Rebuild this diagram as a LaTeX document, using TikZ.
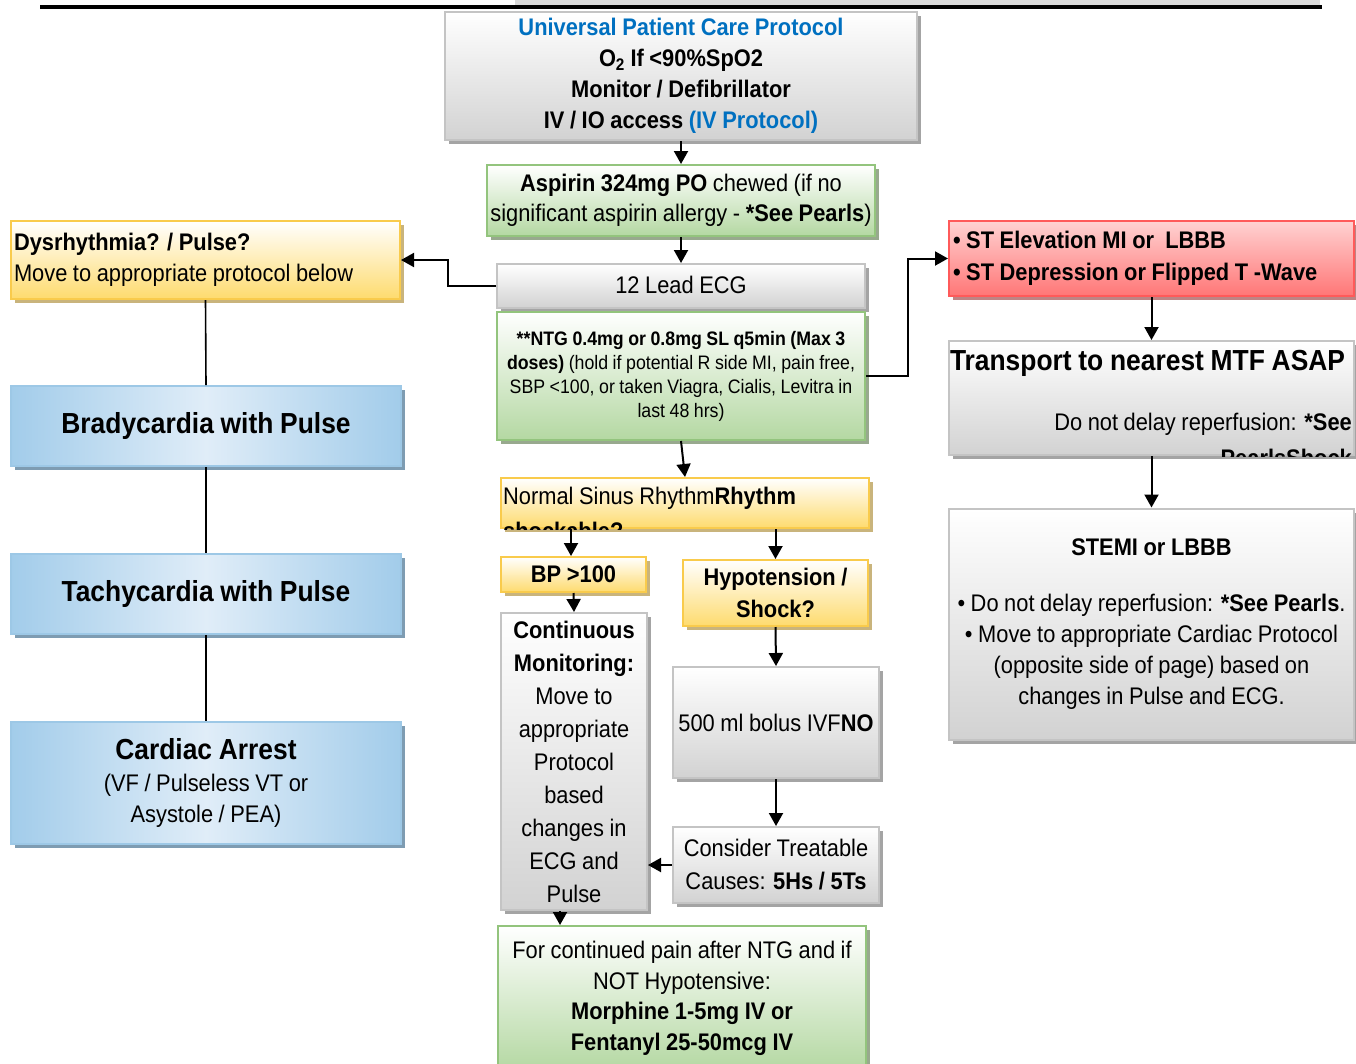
\documentclass[tikz,border=0pt]{standalone}
\usepackage{fontspec}
\setmainfont{Liberation Sans}[FakeStretch=0.91, WordSpace=0.92]
\usetikzlibrary{arrows.meta,shadows}

\definecolor{ublue}{HTML}{0070C0}
\definecolor{gborder}{HTML}{C4C4C4}
\definecolor{gbottom}{HTML}{D2D2D2}
\definecolor{gshadow}{HTML}{A4A4A4}
\definecolor{grborder}{HTML}{93C47D}
\definecolor{grbottom}{HTML}{B4D8A2}
\definecolor{grshadow}{HTML}{98A98E}
\definecolor{yborder}{HTML}{F9CB4C}
\definecolor{ybottom}{HTML}{FEDB6E}
\definecolor{yshadow}{HTML}{C9B47C}
\definecolor{bborder}{HTML}{9DC8E6}
\definecolor{bedge}{HTML}{A2CCEA}
\definecolor{bmid}{HTML}{E0EDF8}
\definecolor{bshadow}{HTML}{7E9CB2}
\definecolor{rborder}{HTML}{FF5A5A}
\definecolor{rtop}{HTML}{FFD2D2}
\definecolor{rbottom}{HTML}{FF7676}
\definecolor{rshadow}{HTML}{BE8484}
\definecolor{stripgrey}{HTML}{D9D9D9}

\tikzset{
  box/.style={line width=2pt, inner sep=0pt, align=center,
    font=\fontsize{24}{30.5}\selectfont},
  greybox/.style={box, draw=gborder, top color=white, bottom color=gbottom,
    drop shadow={fill=gshadow, opacity=1, shadow xshift=4pt, shadow yshift=-4pt}},
  greenbox/.style={box, draw=grborder, top color=white, bottom color=grbottom,
    drop shadow={fill=grshadow, opacity=1, shadow xshift=4pt, shadow yshift=-4pt}},
  yellowbox/.style={box, draw=yborder, top color=white, bottom color=ybottom,
    drop shadow={fill=yshadow, opacity=1, shadow xshift=4pt, shadow yshift=-4pt}},
  bluebox/.style={box, draw=bborder, left color=bedge, right color=bedge, middle color=bmid,
    drop shadow={fill=bshadow, opacity=1, shadow xshift=4pt, shadow yshift=-4pt}},
  redbox/.style={box, draw=rborder, top color=rtop, bottom color=rbottom,
    drop shadow={fill=rshadow, opacity=1, shadow xshift=4pt, shadow yshift=-4pt}},
  plain/.style={inner sep=0pt, font=\fontsize{24}{30.5}\selectfont},
  arr/.style={line width=2pt, -{Triangle[length=13pt,width=14pt]}},
  link/.style={line width=1.6pt},
  big/.style={font=\fontsize{29}{33}\selectfont\bfseries}
}

\begin{document}
\begin{tikzpicture}[x=1pt,y=-1pt]
\clip (0,0) rectangle (1356,1063);
\fill[white] (0,0) rectangle (1356,1063);

% page header strip and rule
\fill[stripgrey] (515,0) rectangle (1320,5);
\draw[line width=4.5pt] (40,7) -- (1322,7);

% ---- centre column ----
\node[greybox, minimum width=472pt, minimum height=128pt,
      font=\fontsize{24}{31}\selectfont\bfseries] (upc) at (681,76)
  {{\color{ublue}Universal Patient Care Protocol}\\
   O\textsubscript{2} If <90\%SpO2\\
   Monitor / Defibrillator\\
   IV / IO access {\color{ublue}(IV Protocol)}};

\node[greenbox, minimum width=388pt, minimum height=71pt] (asa) at (681,200.5)
  {\textbf{Aspirin 324mg PO} chewed (if no\\
   significant aspirin allergy - \textbf{*See Pearls})};

\node[greybox, minimum width=368pt, minimum height=44pt] (ecg) at (681,286)
  {\raisebox{3pt}{12 Lead ECG}};

\node[greenbox, minimum width=368pt, minimum height=128pt,
      font=\fontsize{19.5}{24}\selectfont] (ntg) at (681,376)
  {\textbf{**NTG 0.4mg or 0.8mg SL q5min (Max 3}\\
   \textbf{doses)} (hold if potential R side MI, pain free,\\
   SBP <100, or taken Viagra, Cialis, Levitra in\\
   last 48 hrs)};

\node[yellowbox, minimum width=368pt, minimum height=50pt] (nsr) at (685,503) {};
\begin{scope}
  \clip (nsr.south west) rectangle (nsr.north east);
  \node[plain, anchor=west, align=flush left, font=\fontsize{24}{35}\selectfont] (nsrtxt) at (503,513.5)
    {Normal Sinus Rhythm\textbf{Rhythm}\\\textbf{shockable?}};
\end{scope}

\node[yellowbox, minimum width=145pt, minimum height=35pt] (bp) at (573.5,574.5)
  {\textbf{BP >100}};

\node[greybox, minimum width=146pt, minimum height=297pt,
      font=\fontsize{24}{33}\selectfont] (cont) at (574,761.5)
  {\textbf{Continuous}\\\textbf{Monitoring:}\\Move to\\appropriate\\Protocol\\based\\changes in\\ECG and\\Pulse};

\node[yellowbox, minimum width=185pt, minimum height=66pt,
      font=\fontsize{24}{32}\selectfont] (hypo) at (775.5,593)
  {\textbf{Hypotension /}\\\textbf{Shock?}};

\node[greybox, minimum width=206pt, minimum height=111pt] (bolus) at (776,722.5)
  {500 ml bolus IVF\textbf{NO}};

\node[greybox, minimum width=206pt, minimum height=76pt,
      font=\fontsize{24}{33}\selectfont] (cause) at (776,865)
  {Consider Treatable\\Causes: \textbf{5Hs / 5Ts}};

\node[greenbox, minimum width=368pt, minimum height=145pt] (pain) at (682,998.5)
  {For continued pain after NTG and if\\NOT Hypotensive:\\
   \textbf{Morphine 1-5mg IV or}\\\textbf{Fentanyl 25-50mcg IV}};

% ---- left column ----
\node[yellowbox, minimum width=389pt, minimum height=78pt, align=flush left,
      inner xsep=3pt, text width=383pt] (dys) at (205.5,260)
  {\textbf{Dysrhythmia? / Pulse?}\\Move to appropriate protocol below};

\node[bluebox, big, minimum width=390pt, minimum height=80pt] (brady) at (206,426)
  {Bradycardia with Pulse};
\node[bluebox, big, minimum width=390pt, minimum height=80pt] (tachy) at (206,594)
  {Tachycardia with Pulse};
\node[bluebox, minimum width=390pt, minimum height=122pt,
      font=\fontsize{24}{31.5}\selectfont] (arrest) at (206,783)
  {{\fontsize{29}{33}\selectfont\bfseries Cardiac Arrest}\\
   (VF / Pulseless VT or\\Asystole / PEA)};

% ---- right column ----
\node[redbox, minimum width=405pt, minimum height=75pt, align=flush left,
      inner xsep=4pt, text width=397pt, font=\fontsize{24}{32}\selectfont\bfseries] (st) at (1151.5,258.5)
  {• ST Elevation MI or\ \ LBBB\\• ST Depression or Flipped T -Wave};

\node[greybox, minimum width=405pt, minimum height=114pt] (mtf) at (1151.5,398) {};
\begin{scope}
  \clip (mtf.south west) rectangle (mtf.north east);
  \node[plain, big] (mtftitle) at (1147.5,363) {Transport to nearest MTF ASAP};
  \node[plain, anchor=east, align=flush right, font=\fontsize{24}{36}\selectfont] (mtfnote) at (1352,440)
    {Do not delay reperfusion: \textbf{*See}\\\textbf{PearlsShock}};
\end{scope}

\node[greybox, minimum width=405pt, minimum height=231pt,
      font=\fontsize{24}{31}\selectfont] (stemi) at (1151.5,624)
  {\textbf{STEMI or LBBB}\\[25pt]
   • Do not delay reperfusion: \textbf{*See Pearls}.\\
   • Move to appropriate Cardiac Protocol\\
   (opposite side of page) based on\\
   changes in Pulse and ECG.};

% ---- connectors ----
\draw[arr] (upc.south) -- (asa.north);
\draw[arr] (asa.south) -- (ecg.north);
\draw[arr] (ecg.west) -- ++(-48,0) |- (dys.east);
\draw[arr] (ntg.east) -- ++(42,0) |- (st.west);
\draw[arr] (ntg.south) -- (nsr.north);
\draw[arr] (nsr.south -| 571,0) -- (bp.north -| 571,0);
\draw[arr] (nsr.south -| hypo.north) -- (hypo.north);
\draw[arr] (bp.south) -- (cont.north);
\draw[arr] (hypo.south) -- (bolus.north);
\draw[arr] (bolus.south) -- (cause.north);
\draw[arr] (cause.west) -- (cause.west -| cont.east);
\draw[arr] ([xshift=-14pt]cont.south) -- ([xshift=-14pt]cont.south |- pain.north);
\draw[arr] (st.south) -- (mtf.north);
\draw[arr] (mtf.south) -- (stemi.north);

\draw[link] (dys.south) -- (brady.north);
\draw[link] (brady.south) -- (tachy.north);
\draw[link] (tachy.south) -- (arrest.north);
\end{tikzpicture}
\end{document}
